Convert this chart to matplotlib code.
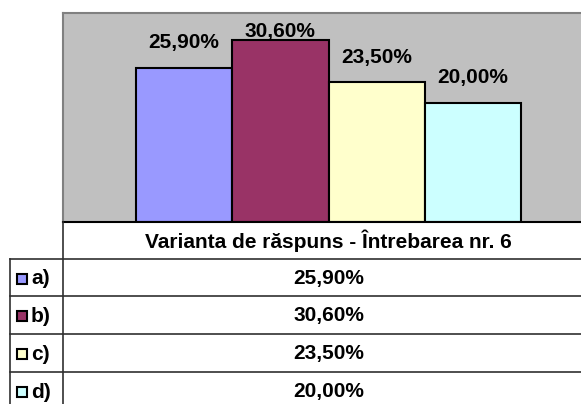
import matplotlib
matplotlib.use("Agg")
import matplotlib.pyplot as plt
from matplotlib.lines import Line2D
from matplotlib.patches import Rectangle

categories = ["a)", "b)", "c)", "d)"]
values = [25.9, 30.6, 23.5, 20.0]
colors = ["#9999FF", "#993366", "#FFFFCC", "#CCFFFF"]
series_title = "Varianta de răspuns - Întrebarea nr. 6"
y_max = 35.1

W, H = 581, 404
plt.rcParams["font.family"] = ["Liberation Sans", "DejaVu Sans"]
FS = 15

def fx(x): return x / W
def fy(y): return 1 - y / H

def fmt(v):
    return f"{v:.2f}".replace(".", ",") + "%"

fig = plt.figure(figsize=(W / 100, H / 100), dpi=100)

# plot area (runs off the right edge like the original)
ax = fig.add_axes([fx(63), fy(222), (594 - 63) / W, (222 - 13) / H])
ax.set_facecolor("#C0C0C0")
x = list(range(len(values)))
ax.bar(x, values, width=1.0, color=colors, edgecolor="black", linewidth=1.5)
ax.set_xlim(-1.257, 4.257)
ax.set_ylim(0, y_max)
ax.set_xticks([]); ax.set_yticks([])
for s in ["top", "left", "right"]:
    ax.spines[s].set_color("#808080")
    ax.spines[s].set_linewidth(1.5)
ax.spines["bottom"].set_color("black")
ax.spines["bottom"].set_linewidth(1.5)

# data labels, pushed down when they would leave the plot area
cap = H - 32
for i, v in enumerate(values):
    top = ax.transData.transform((i, v))[1]
    off = min(25, cap - top)
    ax.annotate(fmt(v), (i, v), xytext=(0, off), textcoords="offset pixels",
                ha="center", va="center", fontsize=FS, fontweight="bold")

# data table below the chart
rows = [222, 259, 296, 334, 372]
lc = "#303030"
def hline(y, x0, x1=W):
    fig.add_artist(Line2D([fx(x0), fx(x1)], [fy(y), fy(y)], color=lc, lw=1.2,
                          transform=fig.transFigure))
def vline(x, y0, y1=H):
    fig.add_artist(Line2D([fx(x), fx(x)], [fy(y0), fy(y1)], color=lc, lw=1.2,
                          transform=fig.transFigure))

for y in rows[1:]:
    hline(y, 10)
vline(63, 222)
vline(10, 259)

cx = 328.5
fig.text(fx(cx), fy(241), series_title, ha="center", va="center",
         fontsize=FS, fontweight="bold")
for i, (c, v) in enumerate(zip(categories, values)):
    yc = (rows[i + 1] + (rows[i + 2] if i + 2 < len(rows) else 410)) / 2 + 1
    fig.add_artist(Rectangle((fx(17), fy(yc + 5)), 10 / W, 10 / H,
                             facecolor=colors[i], edgecolor="black", lw=1.5,
                             transform=fig.transFigure))
    fig.text(fx(31), fy(yc), c, ha="left", va="center", fontsize=FS, fontweight="bold")
    fig.text(fx(cx), fy(yc), fmt(v), ha="center", va="center",
             fontsize=FS, fontweight="bold")

fig.savefig("out.png", dpi=100)
